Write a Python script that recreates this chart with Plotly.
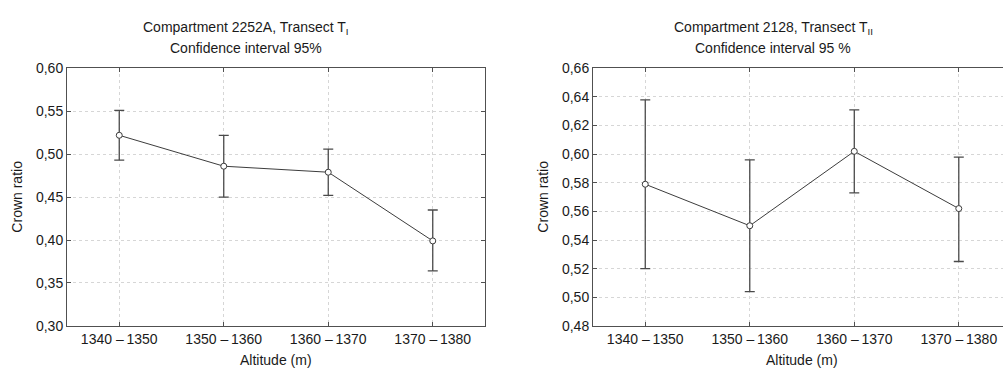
import plotly.graph_objects as go

categories = ["1340 –\u20091350", "1350 –\u20091360", "1360 –\u20091370", "1370 –\u20091380"]

# Compartment 2252A, Transect T_I
mean_1 = [0.522, 0.486, 0.479, 0.399]
upper_1 = [0.551, 0.522, 0.506, 0.435]
lower_1 = [0.493, 0.450, 0.452, 0.364]

# Compartment 2128, Transect T_II
mean_2 = [0.579, 0.550, 0.602, 0.562]
upper_2 = [0.638, 0.596, 0.631, 0.598]
lower_2 = [0.520, 0.504, 0.573, 0.525]

W, H = 1003, 377
FONT = "Liberation Sans, Arial, sans-serif"
LINE = "#3c3c3c"
AXIS = "#505050"
TXT = "#1a1a1a"

def px_x(p):
    return p / W

def px_y(p):
    return 1 - p / H

fig = go.Figure()

def add_series(mean, upper, lower, xa, ya):
    fig.add_trace(go.Scatter(
        x=categories, y=mean, xaxis=xa, yaxis=ya,
        mode="lines+markers",
        line=dict(color=LINE, width=1),
        marker=dict(symbol="circle", size=6, color="white",
                    line=dict(color=LINE, width=1)),
        error_y=dict(type="data", symmetric=False,
                     array=[u - m for u, m in zip(upper, mean)],
                     arrayminus=[m - l for m, l in zip(mean, lower)],
                     color="#4a4a4a", thickness=1.3, width=5),
        showlegend=False,
    ))

add_series(mean_1, upper_1, lower_1, "x", "y")
add_series(mean_2, upper_2, lower_2, "x2", "y2")

ydom = [px_y(332), px_y(63)]
grid = dict(showgrid=True, gridcolor="#d6d6d6", griddash="dot", gridwidth=1)
tickfont = dict(family=FONT, size=14, color=TXT)
tk = dict(ticks="inside", ticklen=4, tickcolor=AXIS, tickwidth=1)

fig.update_layout(
    width=W, height=H,
    margin=dict(l=0, r=0, t=0, b=0),
    paper_bgcolor="white", plot_bgcolor="white",
    separators=", ",
    font=dict(family=FONT, color=TXT),
    xaxis=dict(domain=[px_x(67), px_x(485)], type="category",
               range=[-0.5, 3.5], anchor="y",
               showline=True, linecolor=AXIS, linewidth=1, mirror="ticks",
               tickfont=tickfont, **tk, **grid),
    yaxis=dict(domain=ydom, range=[0.30, 0.60], anchor="x",
               tickvals=[0.30, 0.35, 0.40, 0.45, 0.50, 0.55, 0.60],
               tickformat=".2f",
               showline=True, linecolor=AXIS, linewidth=1, mirror="ticks",
               tickfont=tickfont, zeroline=False, **tk, **grid),
    xaxis2=dict(domain=[px_x(593), 1.0], type="category",
                range=[-0.5, 3.423], anchor="y2",
                showline=True, linecolor=AXIS, linewidth=1, mirror="ticks",
                tickfont=tickfont, **tk, **grid),
    yaxis2=dict(domain=ydom, range=[0.48, 0.66], anchor="x2",
                tickvals=[0.48, 0.50, 0.52, 0.54, 0.56, 0.58, 0.60, 0.62, 0.64, 0.66],
                tickformat=".2f",
                showline=True, linecolor=AXIS, linewidth=1, mirror=False,
                tickfont=tickfont, zeroline=False, **tk, **grid),
)

ann = []
def text(x, y, s, size=14, angle=0):
    ann.append(dict(x=px_x(x), y=px_y(y), xref="paper", yref="paper",
                    text=s, showarrow=False, textangle=angle,
                    xanchor="center", yanchor="middle",
                    font=dict(family=FONT, size=size, color=TXT)))

text(246, 21, "Compartment 2252A, Transect T<sub>I</sub>")
text(246, 42, "Confidence interval 95%")
text(773, 21, "Compartment 2128, Transect T<sub>II</sub>")
text(773, 42, "Confidence interval 95 %")
text(276, 368, "Altitude (m)")
text(802, 368, "Altitude (m)")
text(17, 197, "Crown ratio", angle=-90)
text(543, 197, "Crown ratio", angle=-90)

fig.update_layout(annotations=ann)
fig.write_html("out.html")
